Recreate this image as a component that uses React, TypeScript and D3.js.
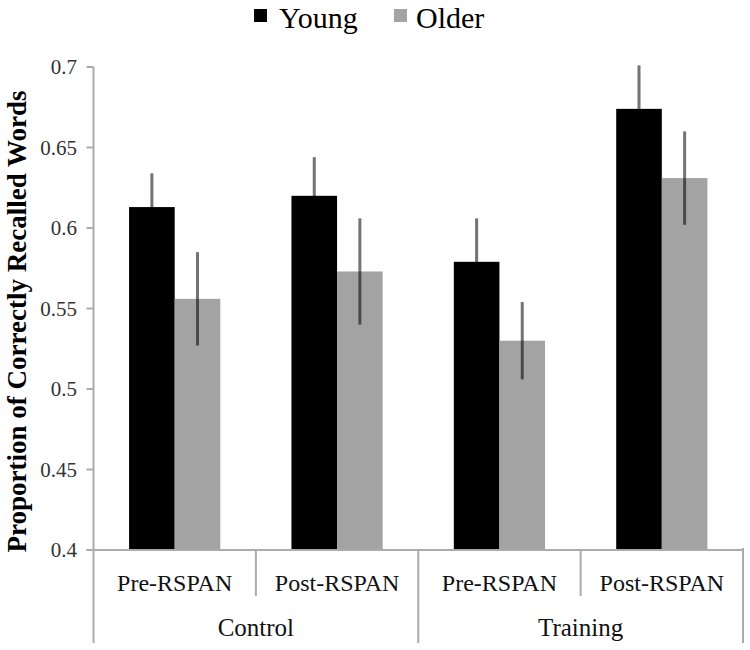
import React from "react";
import * as d3 from "d3";

const conditions = ["Pre-RSPAN", "Post-RSPAN", "Pre-RSPAN", "Post-RSPAN"];
const groups = ["Control", "Control", "Training", "Training"];
const groupNames = ["Control", "Training"];
const seriesNames = ["Young", "Older"];
const youngValues = [0.613, 0.62, 0.579, 0.674];
const olderValues = [0.556, 0.573, 0.53, 0.631];
const youngErrors = [0.021, 0.024, 0.027, 0.027];
const olderErrors = [0.029, 0.033, 0.024, 0.029];
const yTicks = [0.4, 0.45, 0.5, 0.55, 0.6, 0.65, 0.7];
const yTickLabels = ["0.4", "0.45", "0.5", "0.55", "0.6", "0.65", "0.7"];
const colors = ["#000000", "#a3a3a3"];

const W = 750;
const H = 650;
const left = 93.5;
const right = 743;
const top = 67;
const bottom = 550;
const axisColor = "#ababab";
const font = "'Liberation Serif', 'Times New Roman', serif";

export default function App() {
  const y = d3.scaleLinear().domain([0.4, 0.7]).range([bottom, top]);
  const keys = conditions.map((_, i) => String(i));
  const x0 = d3.scaleBand().domain(keys).range([left, right]).padding(0);
  const x1 = d3
    .scaleBand()
    .domain(seriesNames)
    .range([0, x0.bandwidth()])
    .paddingInner(0)
    .paddingOuter(0.78);
  const seriesVals = [youngValues, olderValues];
  const seriesErrs = [youngErrors, olderErrors];
  const bw = x1.bandwidth();

  return (
    <svg
      width={W}
      height={H}
      style={{ position: "absolute", left: 0, top: 0, background: "#fff" }}
    >
      {/* legend */}
      <g fontFamily={font} fontSize={30} fill="#000">
        <rect x={254} y={9} width={13} height={13} fill={colors[0]} />
        <text x={279} y={28}>{seriesNames[0]}</text>
        <rect x={394} y={9} width={13} height={13} fill={colors[1]} />
        <text x={416} y={28}>{seriesNames[1]}</text>
      </g>

      {/* y axis */}
      <line x1={left} x2={left} y1={top} y2={bottom} stroke={axisColor} strokeWidth={2} />
      {yTicks.map((t, i) => (
        <g key={"t" + i}>
          <line x1={left - 7} x2={left} y1={y(t)} y2={y(t)} stroke={axisColor} strokeWidth={2} />
          <text
            x={77}
            y={y(t)}
            dy="0.35em"
            textAnchor="end"
            fontFamily={font}
            fontSize={21}
            fill="#333"
          >
            {yTickLabels[i]}
          </text>
        </g>
      ))}
      <text
        transform={`translate(26,${(top + bottom) / 2 + 13}) rotate(-90)`}
        textAnchor="middle"
        fontFamily={font}
        fontWeight="bold"
        fontSize={27}
        fill="#000"
      >
        Proportion of Correctly Recalled Words
      </text>

      {/* bars */}
      {keys.map((k, i) =>
        seriesNames.map((s, j) => {
          const v = seriesVals[j][i];
          const bx = (x0(k) as number) + (x1(s) as number);
          return (
            <rect
              key={k + s}
              x={bx}
              y={y(v)}
              width={bw}
              height={y(0.4) - y(v)}
              fill={colors[j]}
            />
          );
        })
      )}
      {/* error bars */}
      {keys.map((k, i) =>
        seriesNames.map((s, j) => {
          const v = seriesVals[j][i];
          const e = seriesErrs[j][i];
          const cx = (x0(k) as number) + (x1(s) as number) + bw / 2;
          return (
            <line
              key={"e" + k + s}
              x1={cx}
              x2={cx}
              y1={y(v + e)}
              y2={y(v - e)}
              stroke="#000"
              strokeOpacity={0.55}
              strokeWidth={3}
            />
          );
        })
      )}

      {/* x axis */}
      <line x1={left - 7} x2={right} y1={bottom} y2={bottom} stroke={axisColor} strokeWidth={2} />
      {keys.map((k, i) => {
        const xs = x0(k) as number;
        const isGroupStart = i % 2 === 0;
        return (
          <g key={"x" + k}>
            <line
              x1={xs}
              x2={xs}
              y1={bottom}
              y2={isGroupStart ? 643 : 596}
              stroke={axisColor}
              strokeWidth={2}
            />
            <text
              x={xs + x0.bandwidth() / 2}
              y={591}
              textAnchor="middle"
              fontFamily={font}
              fontSize={24}
              fill="#111"
            >
              {conditions[i]}
            </text>
          </g>
        );
      })}
      <line x1={right} x2={right} y1={bottom - 2} y2={643} stroke={axisColor} strokeWidth={2} />
      {groupNames.map((g) => {
        const idx = groups.indexOf(g);
        const xs = x0(String(idx)) as number;
        return (
          <text
            key={"g" + g}
            x={xs + x0.bandwidth()}
            y={636}
            textAnchor="middle"
            fontFamily={font}
            fontSize={25}
            fill="#111"
          >
            {g}
          </text>
        );
      })}
    </svg>
  );
}
